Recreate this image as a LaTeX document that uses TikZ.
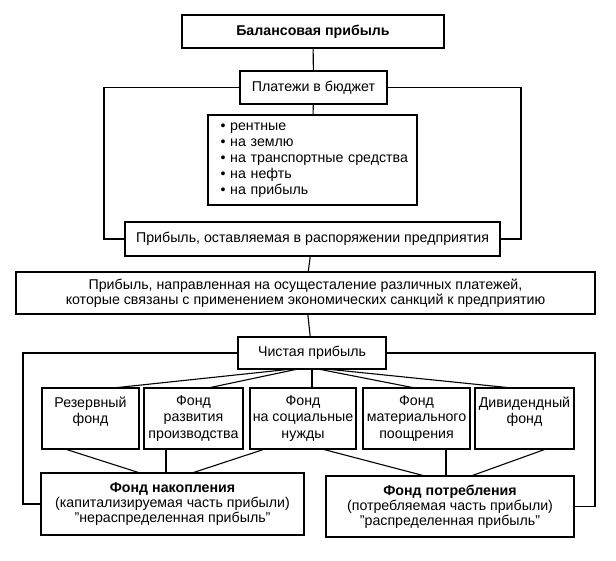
\documentclass[tikz,border=0pt]{standalone}
\usepackage{fontspec}
\setmainfont{Liberation Sans}
\tikzset
{
    box/.style      = {draw=black, line width=1.1pt, align=center, inner sep=1pt, outer sep=0pt},
    headbox/.style  = {box, line width=2pt, font=\fontsize{14.2}{16}\bfseries},
    fundbox/.style  = {box, minimum height=61pt, font=\fontsize{14.2}{16.5}\selectfont},
    link/.style     = {draw=black, line width=1.1pt}
}
\begin{document}
\begin{tikzpicture}[x=1pt, y=-1pt, font=\fontsize{14.2}{16}\selectfont]
\useasboundingbox (0,0) rectangle (616,561);
% upper part
\node [headbox, minimum width=262pt, minimum height=33pt] at (313,31.5) (bal) {Балансовая прибыль};
\node [box, minimum width=147pt, minimum height=33pt] at (313.5,87.5) (plat) {Платежи в бюджет};
\node [box, align=left, text width=192pt, inner xsep=8.5pt, minimum height=90pt] at (312.5,160) (vidy)
  {\hspace*{4pt}\textbullet\ рентные\\\hspace*{4pt}\textbullet\ на землю\\\hspace*{4pt}\textbullet\ на транспортные средства\\\hspace*{4pt}\textbullet\ на нефть\\\hspace*{4pt}\textbullet\ на прибыль};
\node [box, minimum width=375pt, minimum height=34pt] at (312.5,239) (ost) {Прибыль, оставляемая в распоряжении предприятия};
\node [box, minimum width=579pt, minimum height=42pt, font=\fontsize{14.2}{13}\selectfont] at (305.5,293) (napr)
  {Прибыль, направленная на осущесталение различных платежей,\\которые связаны с применением экономических санкций к предприятию};
\node [box, minimum width=148pt, minimum height=32pt] at (312,353) (chist) {Чистая прибыль};
% funds
\node [fundbox, minimum width=97pt]  at (90.5,418.5)  (rez)  {Резервный\\фонд\\~};
\node [fundbox, minimum width=99pt]  at (193.5,418.5) (razv) {Фонд\\развития\\производства};
\node [fundbox, minimum width=106pt] at (303,418.5)   (soc)  {Фонд\\на социальные\\нужды};
\node [fundbox, minimum width=107pt] at (416.5,418.5) (mat)  {Фонд\\материального\\поощрения};
\node [fundbox, minimum width=99pt]  at (524.5,418.5) (div)  {Дивидендный\\фонд\\~};
\node [box, minimum width=263pt, minimum height=62pt, font=\fontsize{14.2}{15}\selectfont] at (172.5,504) (nak)
  {\textbf{Фонд накопления}\\(капитализируемая часть прибыли)\\"нераспределенная прибыль"};
\node [box, minimum width=248pt, minimum height=61pt, font=\fontsize{14.2}{15}\selectfont] at (450,506.5) (potr)
  {\textbf{Фонд потребления}\\(потребляемая часть прибыли)\\"распределенная прибыль"};
% connectors
\draw [link] (bal) -- (plat);
\draw [link] (plat) -- (vidy);
\draw [link] (plat.west) -- ++(-136,0) |- (ost.west);
\draw [link] (plat.east) -- ++(134,0) |- (ost.east);
\draw [link] (ost) -- (napr);
\draw [link] (napr) -- (chist);
\draw [link] (chist.west) -- ++(-215,0) |- (nak.west);
\draw [link] (chist.east) -- ++(209,0) |- (potr.east);
\draw [link] ([xshift=-20pt]chist.south) -- ([xshift=22.5pt]rez.north);
\draw [link] ([xshift=-14pt]chist.south) -- ([xshift=14.5pt]razv.north);
\draw [link] ([xshift=0pt]chist.south) -- ([xshift=9pt]soc.north);
\draw [link] ([xshift=6pt]chist.south) -- ([xshift=-1.5pt]mat.north);
\draw [link] ([xshift=14pt]chist.south) -- ([xshift=-12.5pt]div.north);
\draw [link] ([xshift=-25.5pt]rez.south) -- ([xshift=-32.5pt]nak.north);
\draw [link] ([xshift=-27.5pt]razv.south) -- ([xshift=-6.5pt]nak.north);
\draw [link] ([xshift=-38pt]soc.south) -- ([xshift=19.5pt]nak.north);
\draw [link] ([xshift=19pt]soc.south) -- ([xshift=-25pt]potr.north);
\draw [link] ([xshift=29.5pt]mat.south) -- ([xshift=-4pt]potr.north);
\draw [link] ([xshift=21.5pt]div.south) -- ([xshift=21pt]potr.north);
\end{tikzpicture}
\end{document}
